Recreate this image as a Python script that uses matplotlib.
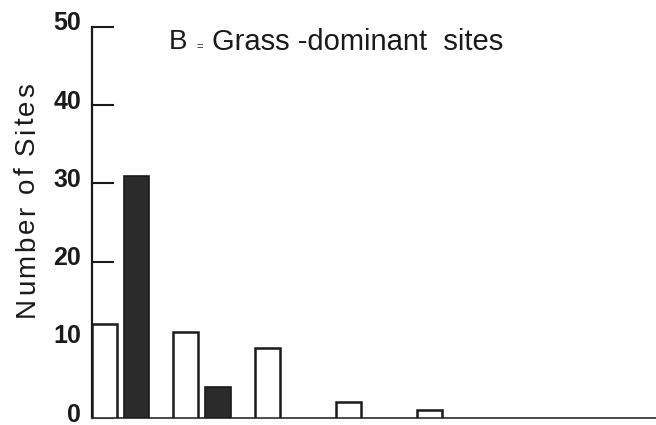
import matplotlib
matplotlib.use("Agg")
import matplotlib.pyplot as plt
import matplotlib.transforms as mtransforms
from matplotlib.font_manager import FontProperties, findfont, get_font
import numpy as np

# Site counts per class: open bars and filled bars
groups = [0, 1, 2, 3, 4]
open_counts = [12, 11, 9, 2, 1]
filled_counts = [31, 4, 0, 0, 0]
y_ticks = [0, 10, 20, 30, 40, 50]
title_head = "B"
title_sep = "="
title_tail = "Grass -dominant  sites"
ylabel = "Number of Sites"

plt.rcParams['font.family'] = ['Liberation Sans', 'DejaVu Sans']
DPI = 100
W = 656.0
H = 425.0

fig = plt.figure(figsize=(W / DPI, H / DPI), dpi=DPI)
ax = fig.add_axes([92 / W, 7 / H, 1 - 92 / W, (418 - 27) / H])

x = np.array(groups, dtype=float)
width = 0.31
offset = 0.395

ax.bar(x, open_counts, width=width, facecolor="white", edgecolor="#1a1a1a",
       linewidth=1.8, zorder=3)
fx = [xi + offset for xi, c in zip(x, filled_counts) if c > 0]
fc = [c for c in filled_counts if c > 0]
ax.bar(fx, fc, width=width, facecolor="#2b2b2b", edgecolor="#1a1a1a",
       linewidth=1.2, zorder=3)

ax.set_xlim(-0.154, 6.78)
ax.set_ylim(0, 50)

for s in ["top", "right"]:
    ax.spines[s].set_visible(False)
ax.spines["left"].set_linewidth(1.6)
ax.spines["bottom"].set_linewidth(1.3)
ax.spines["left"].set_color("#1a1a1a")
ax.spines["bottom"].set_color("#3a3a3a")

ax.set_xticks([])
ax.set_yticks(y_ticks)
ax.set_yticklabels([str(t) for t in y_ticks], fontsize=18, fontweight="bold",
                   color="#1a1a1a")
ax.tick_params(axis="y", direction="in", length=16, width=1.5, pad=8,
               color="#1a1a1a")
# tick labels sit a little above their tick marks
lift = mtransforms.ScaledTranslation(0, 6 / DPI, fig.dpi_scale_trans)
for lab in ax.get_yticklabels():
    lab.set_transform(lab.get_transform() + lift)

# letter-spaced vertical axis label, set one glyph at a time
lab_size = 20
tracking = 2.5  # extra pixels between letters
prop = FontProperties(family="Liberation Sans", size=lab_size)
ft = get_font(findfont(prop))
ft.set_size(lab_size, DPI)
advances = []
for ch in ylabel:
    g = ft.load_char(ord(ch))
    advances.append(g.linearHoriAdvance / 65536)
total = sum(advances) + tracking * (len(ylabel) - 1)
pos = (H - 200) - total / 2
for ch, adv in zip(ylabel, advances):
    fig.text(34 / W, pos / H, ch, rotation=90, rotation_mode="anchor",
             ha="left", va="baseline", fontproperties=prop, color="#1a1a1a")
    pos += adv + tracking

ty = 1 - 42 / H
fig.text(169 / W, ty, title_head, ha="left", va="center",
         fontsize=20, color="#1a1a1a")
fig.text(196 / W, 1 - 47 / H, title_sep, ha="left", va="center",
         fontsize=8, color="#1a1a1a")
fig.text(212 / W, ty, title_tail, ha="left", va="center",
         fontsize=21, color="#1a1a1a")

fig.savefig("out.png", dpi=DPI, facecolor="white")
